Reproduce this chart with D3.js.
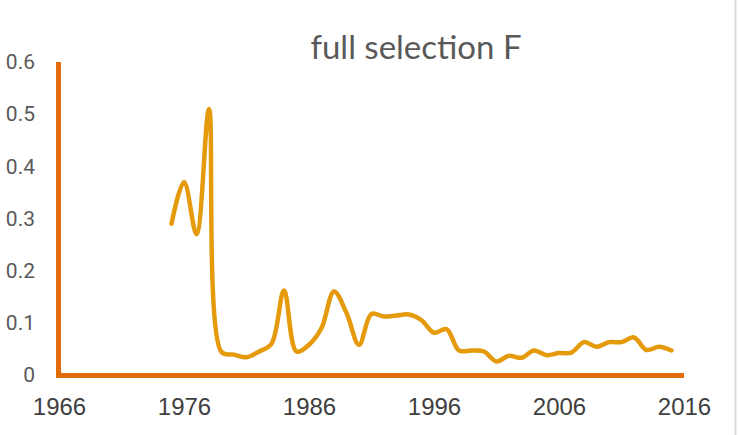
<!DOCTYPE html>
<html>
<head>
<meta charset="utf-8">
<script src="https://cdn.jsdelivr.net/npm/d3@7"></script>
<style>
  html, body { margin: 0; padding: 0; background: #fff; }
  svg { display: block; }
</style>
</head>
<body>
<svg id="chart" width="740" height="435"></svg>
<script>
// Annual F values, 1975–2015
const years = d3.range(1975, 2016);
const fValues = [
  0.29, 0.37, 0.27, 0.51, 0.044, 0.039, 0.034, 0.045, 0.06, 0.162,
  0.045, 0.058, 0.09, 0.16, 0.119, 0.058, 0.117, 0.112, 0.114, 0.116,
  0.105, 0.081, 0.088, 0.047, 0.047, 0.045, 0.026, 0.037, 0.033, 0.047,
  0.038, 0.042, 0.043, 0.063, 0.054, 0.063, 0.063, 0.072, 0.048, 0.054,
  0.047
];
const xTicks = [1966, 1976, 1986, 1996, 2006, 2016];
const yTicks = [0, 0.1, 0.2, 0.3, 0.4, 0.5, 0.6];
const titleText = "full selection F";

const svg = d3.select("#chart");

const x = d3.scaleLinear().domain([1966, 2016]).range([59, 684]);
const y = d3.scaleLinear().domain([0, 0.6]).range([375, 62]);

// chart-area border on the right
svg.append("line")
  .attr("x1", 735.5).attr("x2", 735.5)
  .attr("y1", 0).attr("y2", 435)
  .attr("stroke", "#d9d9d9").attr("stroke-width", 2);

// title
svg.append("text")
  .attr("x", 416).attr("y", 59)
  .attr("text-anchor", "middle")
  .attr("font-family", "Lato, 'Open Sans', sans-serif")
  .attr("font-size", 33)
  .attr("fill", "#595959")
  .text(titleText);

// y axis
const yAxis = d3.axisLeft(y)
  .tickValues(yTicks)
  .tickSize(0)
  .tickPadding(0)
  .tickFormat(d => d === 0 ? "0" : d3.format(".1f")(d));
const gy = svg.append("g").attr("transform", "translate(35,0)").call(yAxis);
gy.select(".domain").remove();
gy.selectAll("text")
  .attr("font-family", "Roboto, sans-serif")
  .attr("font-size", 21)
  .attr("fill", "#595959");

// x axis labels
const xAxis = d3.axisBottom(x)
  .tickValues(xTicks)
  .tickSize(0)
  .tickPadding(0)
  .tickFormat(d3.format("d"));
const gx = svg.append("g").attr("transform", "translate(0,398)").call(xAxis);
gx.select(".domain").remove();
gx.selectAll("text")
  .attr("dy", "0.72em")
  .attr("font-family", "'Liberation Sans Narrow', 'Arial Narrow', sans-serif")
  .attr("font-size", 24)
  .attr("fill", "#404040");

// axis lines
const axisColor = "#E36C0A";
svg.append("line")
  .attr("x1", x(1966) - 0.5).attr("x2", x(1966) - 0.5)
  .attr("y1", y(0.6)).attr("y2", y(0) + 3)
  .attr("stroke", axisColor).attr("stroke-width", 5);
svg.append("line")
  .attr("x1", x(1966) - 3).attr("x2", x(2016))
  .attr("y1", y(0) + 0.5).attr("y2", y(0) + 0.5)
  .attr("stroke", axisColor).attr("stroke-width", 5);

// smoothed series line
const line = d3.line()
  .x((d, i) => x(years[i]))
  .y(d => y(d))
  .curve(d3.curveCatmullRom.alpha(0.5));

svg.append("path")
  .datum(fValues)
  .attr("d", line)
  .attr("fill", "none")
  .attr("stroke", "#E49A0A")
  .attr("stroke-width", 4.5)
  .attr("stroke-linecap", "round")
  .attr("stroke-linejoin", "round");
</script>
</body>
</html>
